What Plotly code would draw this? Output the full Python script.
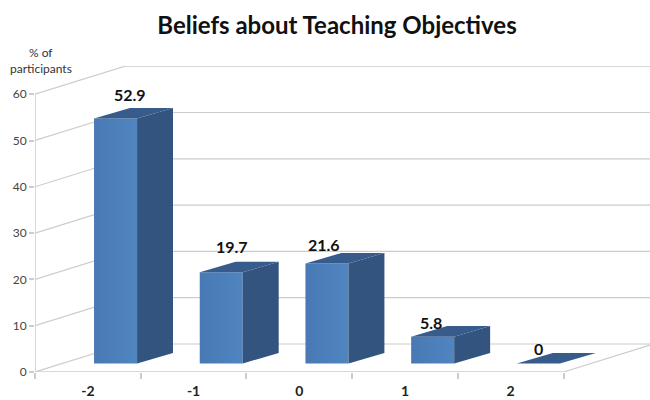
import plotly.graph_objects as go

categories = ["-2", "-1", "0", "1", "2"]
percent_values = [52.9, 19.7, 21.6, 5.8, 0]
y_ticks = [0, 10, 20, 30, 40, 50, 60]

# 3D-look geometry, in axis units
WALL_DX, WALL_DY = 0.851, 6.05
BAR_OFFSET, BAR_WIDTH = 0.262, 0.407
BAR_BASE, BAR_DX, BAR_DY = 1.84, 0.34, 2.27
X_MAX, Y_MAX = 5.318, 66.09
LABEL_DX = [0.40, 0.365, 0.23, 0.245, 0.26]
LABEL_DY = [7.1, 7.3, 6.0, 5.0, 5.0]

GRID = "#cccccc"
FRONT_A, FRONT_B = "#4879b5", "#5085c0"
SIDE = "#33547e"
TOP = "#375c8b"

fig = go.Figure()


def poly(xs, ys, color, gradient=None):
    kw = dict(fill="toself", mode="none", hoverinfo="skip", showlegend=False)
    if gradient:
        kw["fillgradient"] = dict(type="horizontal", colorscale=[[0, gradient[0]], [1, gradient[1]]])
    else:
        kw["fillcolor"] = color
    fig.add_trace(go.Scatter(x=xs, y=ys, **kw))


def line(xs, ys, width=1.2):
    fig.add_trace(go.Scatter(x=xs, y=ys, mode="lines", line=dict(color=GRID, width=width),
                             hoverinfo="skip", showlegend=False, cliponaxis=False))


n = len(categories)
left = -0.5
right = n - 0.5
# wall gridlines
for t in y_ticks:
    line([left, left + WALL_DX, X_MAX], [t, t + WALL_DY, t + WALL_DY])
# axes and floor
line([left, left], [0, y_ticks[-1]], 1.5)
line([left, right], [0, 0], 1.5)
line([right, X_MAX], [0, WALL_DY * (X_MAX - right) / WALL_DX])

# bars
for i, v in enumerate(percent_values):
    x0 = i + BAR_OFFSET - BAR_WIDTH / 2
    x1 = x0 + BAR_WIDTH
    y0 = BAR_BASE
    y1 = BAR_BASE + v
    if v > 0:
        poly([x0, x1, x1, x0, x0], [y0, y0, y1, y1, y0], FRONT_A, (FRONT_A, FRONT_B))
        poly([x1, x1 + BAR_DX, x1 + BAR_DX, x1, x1],
             [y0, y0 + BAR_DY, y1 + BAR_DY, y1, y0], SIDE)
    poly([x0, x1, x1 + BAR_DX, x0 + BAR_DX, x0],
         [y1, y1, y1 + BAR_DY, y1 + BAR_DY, y1], TOP)

annotations = [
    dict(x=i + LABEL_DX[i], y=v + LABEL_DY[i], text=str(v), showarrow=False,
         font=dict(family="Lato", size=16, color="#111111", weight="bold"))
    for i, v in enumerate(percent_values)
]
annotations += [
    dict(xref="paper", yref="paper", x=(41 - 35) / 615, y=(372 - 53) / 306, text="% of", showarrow=False,
         xanchor="center", yanchor="middle", font=dict(family="Lato", size=12, color="#333333")),
    dict(xref="paper", yref="paper", x=(41 - 35) / 615, y=(372 - 69) / 306, text="participants", showarrow=False,
         xanchor="center", yanchor="middle", font=dict(family="Lato", size=12, color="#333333")),
]

fig.update_layout(
    width=650, height=400,
    margin=dict(l=35, r=0, t=66, b=28),
    paper_bgcolor="white", plot_bgcolor="white",
    title=dict(text="Beliefs about Teaching Objectives", x=337 / 650, xanchor="center",
               y=1 - 26 / 400, yanchor="middle",
               font=dict(family="Lato", size=24, color="#111111", weight="bold")),
    xaxis=dict(range=[left, X_MAX], tickvals=list(range(n)), ticktext=categories, showgrid=False,
               zeroline=False, showline=False, ticks="", automargin=False,
               tickfont=dict(family="Lato", size=14, color="#222222", weight="bold"),
               ticklabelstandoff=9,
               minor=dict(tickvals=[k - 0.5 for k in range(n + 1)], ticks="outside", ticklen=6,
                          tickcolor=GRID, tickwidth=1.5, showgrid=False)),
    yaxis=dict(range=[0, Y_MAX], tickvals=y_ticks, showgrid=False, zeroline=False, showline=False,
               ticks="outside", ticklen=5, tickcolor=GRID, tickwidth=1.5, automargin=False,
               tickfont=dict(family="Lato", size=12, color="#444444")),
    annotations=annotations,
)

fig.write_html("out.html", config={"displayModeBar": False},
               post_script="document.body.style.margin='0';")
